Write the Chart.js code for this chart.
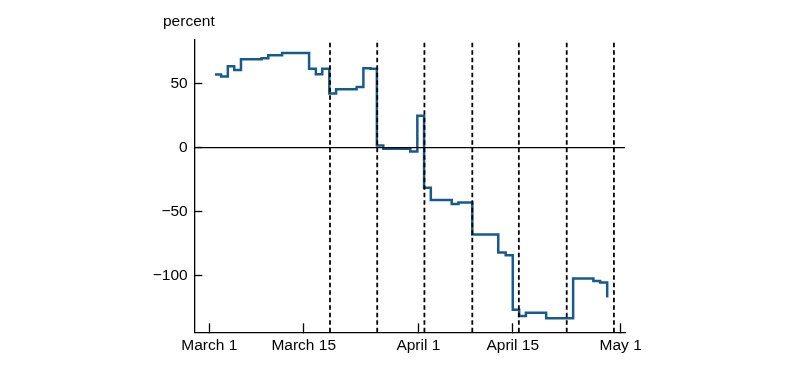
<!DOCTYPE html>
<html>
<head>
<meta charset="utf-8">
<script src="https://cdn.jsdelivr.net/npm/chart.js@4"></script>
<style>
    body { margin: 0; background: #fff; }
    #wrap { width: 800px; height: 369px; }
</style>
</head>
<body>
<div id="wrap"><canvas id="chart" width="800" height="369"></canvas></div>
<script>
// days counted from March 1
const tickDays = [0, 14, 31, 45, 61];
const tickLabels = ['March 1', 'March 15', 'April 1', 'April 15', 'May 1'];
const yTicks = [-100, -50, 0, 50];
const weekLines = [17.9, 24.9, 31.9, 39.0, 45.9, 53.0, 60.0];

// step start (day) and value held until the next step
const stepDays = [0.85, 1.75, 2.75, 3.7, 4.7, 7.75, 8.75, 10.8, 14.8, 15.8,
    16.75, 17.8, 18.8, 21.85, 22.85, 23.9, 24.85, 25.8, 29.8, 30.85,
    31.85, 32.85, 35.95, 36.95, 39.0, 42.85, 43.95, 45.0, 45.95, 46.95,
    49.95, 53.95, 56.95, 57.95, 59.0];
const stepValues = [57, 55.4, 63.5, 60.6, 68.9, 69.7, 72, 73.8, 61.4, 57.3,
    61.4, 42.3, 45.6, 47.2, 61.9, 61.4, 1.6, -0.8, -2.9, 24.9,
    -31.3, -40.8, -43.9, -42.7, -67.6, -81.8, -83.9, -126.4, -131.1, -128.7,
    -132.9, -102, -103.9, -105.1, -116.8];

const xMin = -2.22, xMax = 61.64;
const yMin = -143.9, yMax = 83.9;
const FONT = "'Liberation Sans', Arial, Helvetica, sans-serif";

const datasets = [];

// zero line
datasets.push({
    data: [{ x: xMin, y: 0 }, { x: xMax, y: 0 }],
    borderColor: '#000', borderWidth: 1.4, pointRadius: 0
});

// weekly dashed lines
weekLines.forEach(d => {
    datasets.push({
        data: [{ x: d, y: yMin }, { x: d, y: yMax }],
        borderColor: '#000', borderWidth: 1.8, borderDash: [4.5, 3], pointRadius: 0
    });
});

datasets.push({
    data: stepDays.map((d, i) => ({ x: d, y: stepValues[i] })),
    borderColor: '#175b8b',
    borderWidth: 2.5,
    stepped: true,
    pointRadius: 0
});

const percentLabel = {
    id: 'percentLabel',
    afterDraw(chart) {
        const ctx = chart.ctx;
        ctx.save();
        ctx.font = '15.5px ' + FONT;
        ctx.fillStyle = '#000';
        ctx.textBaseline = 'alphabetic';
        ctx.fillText('percent', 163, 26);
        ctx.restore();
    }
};

new Chart(document.getElementById('chart'), {
    type: 'line',
    data: { datasets },
    plugins: [percentLabel],
    options: {
        responsive: false,
        animation: false,
        layout: { padding: { left: 134.3, top: 40, right: 175, bottom: 0 } },
        plugins: { legend: { display: false }, tooltip: { enabled: false } },
        scales: {
            x: {
                type: 'linear',
                min: xMin, max: xMax,
                afterFit: s => { s.height = 36.7; },
                afterBuildTicks: s => { s.ticks = tickDays.map(v => ({ value: v })); },
                border: { color: '#000', width: 1.3 },
                grid: { drawOnChartArea: false, tickLength: -9, tickWidth: 1.3, tickColor: '#000' },
                ticks: {
                    autoSkip: false, maxRotation: 0, padding: 13, color: '#000',
                    font: { family: FONT, size: 15.5 },
                    callback: v => tickLabels[tickDays.indexOf(v)]
                }
            },
            y: {
                min: yMin, max: yMax,
                afterFit: s => { s.width = 60; },
                afterBuildTicks: s => { s.ticks = yTicks.map(v => ({ value: v })); },
                border: { color: '#000', width: 1.3 },
                grid: { drawOnChartArea: false, tickLength: -8, tickWidth: 1.3, tickColor: '#000' },
                ticks: {
                    padding: 14.6, color: '#000',
                    font: { family: FONT, size: 15.5 },
                    callback: v => (v < 0 ? '\u2212' + Math.abs(v) : String(v))
                }
            }
        }
    }
});
</script>
</body>
</html>
